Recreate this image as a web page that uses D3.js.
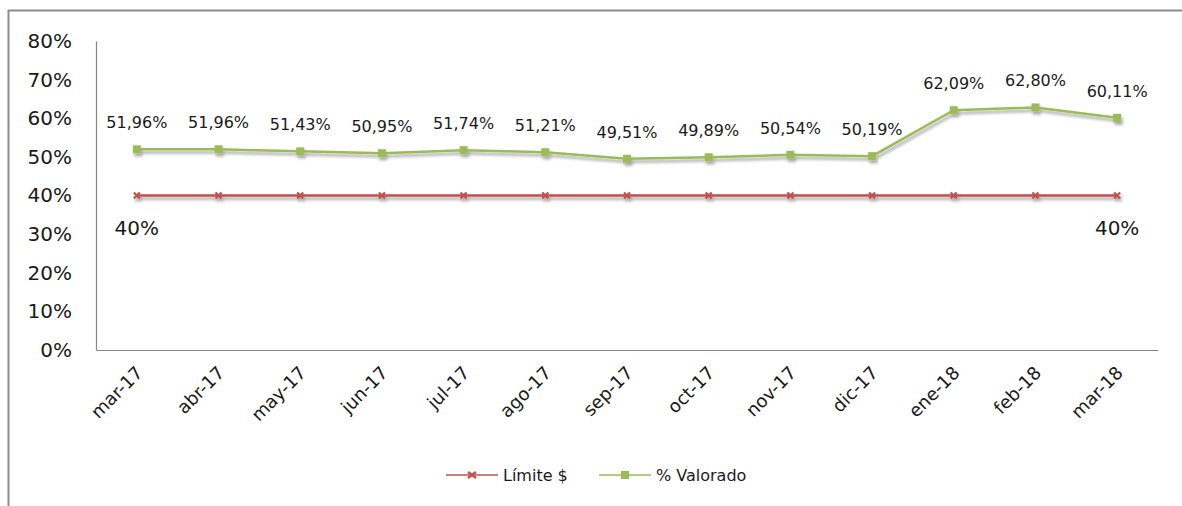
<!DOCTYPE html>
<html>
<head>
<meta charset="utf-8">
<script src="https://cdn.jsdelivr.net/npm/d3@7"></script>
<style>
  body { margin:0; background:#fff; }
  svg text { font-family:"DejaVu Sans", sans-serif; fill:#1a1a1a; }
</style>
</head>
<body>
<svg id="chart" width="1182" height="506"></svg>
<script>
// data
var months = ["mar-17","abr-17","may-17","jun-17","jul-17","ago-17","sep-17","oct-17","nov-17","dic-17","ene-18","feb-18","mar-18"];
var valorado = [51.96,51.96,51.43,50.95,51.74,51.21,49.51,49.89,50.54,50.19,62.09,62.80,60.11];
var limite = [40,40,40,40,40,40,40,40,40,40,40,40,40];
var yTicks = [0,10,20,30,40,50,60,70,80];
var seriesNames = ["Límite $","% Valorado"];

var margin = {top:41, left:96, right:24, bottom:156},
    W = 1182, H = 506;

var svg = d3.select("#chart");

// outer frame (right/bottom edges fall off the picture)
svg.append("rect")
  .attr("x", 8.5).attr("y", 10.5)
  .attr("width", 1300).attr("height", 600)
  .attr("fill", "none").attr("stroke", "#8c8c8c").attr("stroke-width", 2);

var defs = svg.append("defs");
defs.append("filter").attr("id","shadow")
  .attr("x","-5%").attr("y","-50%").attr("width","110%").attr("height","300%")
  .append("feDropShadow")
  .attr("dx", 1.5).attr("dy", 3).attr("stdDeviation", 1.8)
  .attr("flood-color", "#000").attr("flood-opacity", 0.35);

var x = d3.scaleBand()
  .domain(months)
  .range([margin.left, 1158]);

var y = d3.scaleLinear()
  .domain([0, 80])
  .range([350, margin.top]);

var cx = function(i) { return x(months[i]) + x.bandwidth() / 2; };

// y axis
var yAxis = svg.append("g")
  .attr("transform", "translate(" + margin.left + ",0)")
  .call(d3.axisLeft(y).tickValues(yTicks).tickSize(0).tickPadding(24)
    .tickFormat(function(d) { return d + "%"; }));
yAxis.select(".domain").attr("stroke", "#868686").attr("stroke-width", 1.2);
yAxis.selectAll("text").style("font-size", "20px").attr("fill", "#1a1a1a");

// x axis
var xAxis = svg.append("g")
  .attr("transform", "translate(0,350)")
  .call(d3.axisBottom(x).tickSize(0).tickPadding(0));
xAxis.select(".domain").attr("stroke", "#868686").attr("stroke-width", 1.2);
xAxis.selectAll("text")
  .style("font-size", "18px")
  .attr("fill", "#1a1a1a")
  .attr("text-anchor", "end")
  .attr("dy", 0)
  .attr("transform", "translate(7,24) rotate(-45)");

var line = d3.line()
  .x(function(d, i) { return cx(i); })
  .y(function(d) { return y(d); });

var red = "#C0504D", green = "#9BBB59";

// Límite series
var gRed = svg.append("g").attr("filter", "url(#shadow)");
gRed.append("path").datum(limite)
  .attr("d", line).attr("fill", "none").attr("stroke", red).attr("stroke-width", 2.5);
gRed.selectAll("path.mk").data(limite).enter().append("path")
  .attr("class", "mk")
  .attr("d", "M-3,-3L3,3M-3,3L3,-3")
  .attr("transform", function(d, i) { return "translate(" + cx(i) + "," + y(d) + ")"; })
  .attr("stroke", red).attr("stroke-width", 2.2);

// % Valorado series
var gGreen = svg.append("g").attr("filter", "url(#shadow)");
gGreen.append("path").datum(valorado)
  .attr("d", line).attr("fill", "none").attr("stroke", green).attr("stroke-width", 2.5);
gGreen.selectAll("rect").data(valorado).enter().append("rect")
  .attr("x", function(d, i) { return cx(i) - 4; })
  .attr("y", function(d) { return y(d) - 4; })
  .attr("width", 8).attr("height", 8)
  .attr("fill", green);

// data labels
svg.selectAll("text.vlab").data(valorado).enter().append("text")
  .attr("class", "vlab")
  .attr("x", function(d, i) { return cx(i); })
  .attr("y", function(d) { return y(d) - 21; })
  .attr("text-anchor", "middle")
  .style("font-size", "16px")
  .text(function(d) { return d.toFixed(2).replace(".", ",") + "%"; });

var limLabels = [0, limite.length - 1];
svg.selectAll("text.llab").data(limLabels).enter().append("text")
  .attr("class", "llab")
  .attr("x", function(i) { return cx(i); })
  .attr("y", function(i) { return y(limite[i]) + 39; })
  .attr("text-anchor", "middle")
  .style("font-size", "20px")
  .text(function(i) { return limite[i] + "%"; });

// legend
var legendX = [446, 599];
var leg = svg.selectAll("g.leg").data(seriesNames).enter().append("g")
  .attr("class", "leg")
  .attr("transform", function(d, i) { return "translate(" + legendX[i] + ",475)"; });
leg.append("line")
  .attr("x1", 0).attr("x2", 52)
  .attr("stroke", function(d, i) { return i ? green : red; })
  .attr("stroke-width", 1.5);
leg.filter(function(d, i) { return i === 0; }).append("path")
  .attr("d", "M22,-3L30,3M22,3L30,-3")
  .attr("stroke", red).attr("stroke-width", 2.5);
leg.filter(function(d, i) { return i === 1; }).append("rect")
  .attr("x", 22).attr("y", -4).attr("width", 8).attr("height", 8)
  .attr("fill", green);
leg.append("text")
  .attr("x", 57).attr("dy", "0.35em")
  .style("font-size", "16px")
  .text(function(d) { return d; });
</script>
</body>
</html>
